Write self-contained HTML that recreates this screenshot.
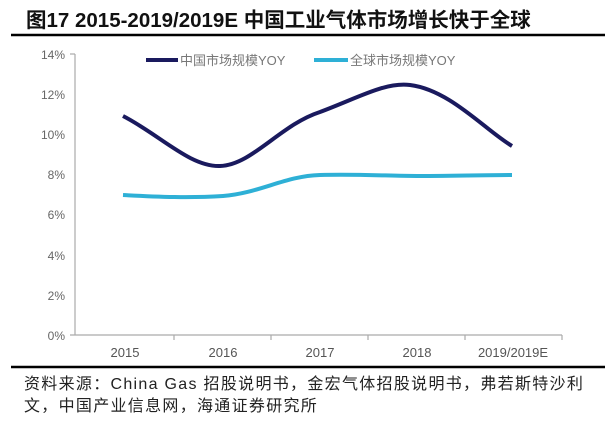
<!DOCTYPE html>
<html><head><meta charset="utf-8"><style>
body{margin:0;background:#fff;width:610px;height:417px;overflow:hidden;font-family:"Liberation Sans","Noto Sans CJK SC",sans-serif}
</style></head><body>
<svg width="610" height="417" xmlns="http://www.w3.org/2000/svg" font-family="Liberation Sans, Noto Sans CJK SC, sans-serif">
<text x="26" y="27" font-size="20.5" font-weight="bold" fill="#111">图17 2015-2019/2019E 中国工业气体市场增长快于全球</text>
<line x1="11" y1="35" x2="605" y2="35" stroke="#000" stroke-width="2.5"/>
<g fill="#666" font-size="12" text-anchor="end">
<text x="65" y="59">14%</text><text x="65" y="99">12%</text><text x="65" y="139">10%</text>
<text x="65" y="179">8%</text><text x="65" y="219">6%</text><text x="65" y="260">4%</text>
<text x="65" y="300">2%</text><text x="65" y="340">0%</text>
</g>
<g stroke="#aaa" stroke-width="1.2" fill="none">
<line x1="70" y1="335" x2="562" y2="335"/>
<line x1="75" y1="54" x2="75" y2="335"/>
<line x1="70" y1="54" x2="75" y2="54"/>
<line x1="174" y1="335" x2="174" y2="340"/><line x1="271" y1="335" x2="271" y2="340"/>
<line x1="368" y1="335" x2="368" y2="340"/><line x1="465" y1="335" x2="465" y2="340"/>
<line x1="562" y1="335" x2="562" y2="340"/>
</g>
<g fill="#555" font-size="13" text-anchor="middle">
<text x="125" y="357">2015</text><text x="223" y="357">2016</text><text x="320" y="357">2017</text>
<text x="417" y="357">2018</text><text x="513" y="357">2019/2019E</text>
</g>
<path d="M123,116 C160,135 190,167 220,166 C252,165 280,125 320,112 C360,97 385,82 410,85 C450,90 485,130 512,146" stroke="#1a1a5e" stroke-width="4" fill="none"/>
<path d="M123,195 C160,197 190,198 223,196 C260,193 285,176 320,175 C360,174 390,176 417,176 C455,176 490,175 512,175" stroke="#2eb0d6" stroke-width="4" fill="none"/>
<line x1="146" y1="60" x2="178" y2="60" stroke="#1a1a5e" stroke-width="4"/>
<text x="180" y="65" font-size="13" fill="#777">中国市场规模YOY</text>
<line x1="314" y1="60" x2="348" y2="60" stroke="#2eb0d6" stroke-width="4"/>
<text x="350" y="65" font-size="13" fill="#777">全球市场规模YOY</text>
<line x1="11" y1="367" x2="605" y2="367" stroke="#000" stroke-width="2.5"/>
<text x="24" y="389" font-size="16" letter-spacing="1.3" fill="#222">资料来源：China Gas 招股说明书，金宏气体招股说明书，弗若斯特沙利</text>
<text x="24" y="411" font-size="16" letter-spacing="1.3" fill="#222">文，中国产业信息网，海通证券研究所</text>
</svg>
</body></html>
